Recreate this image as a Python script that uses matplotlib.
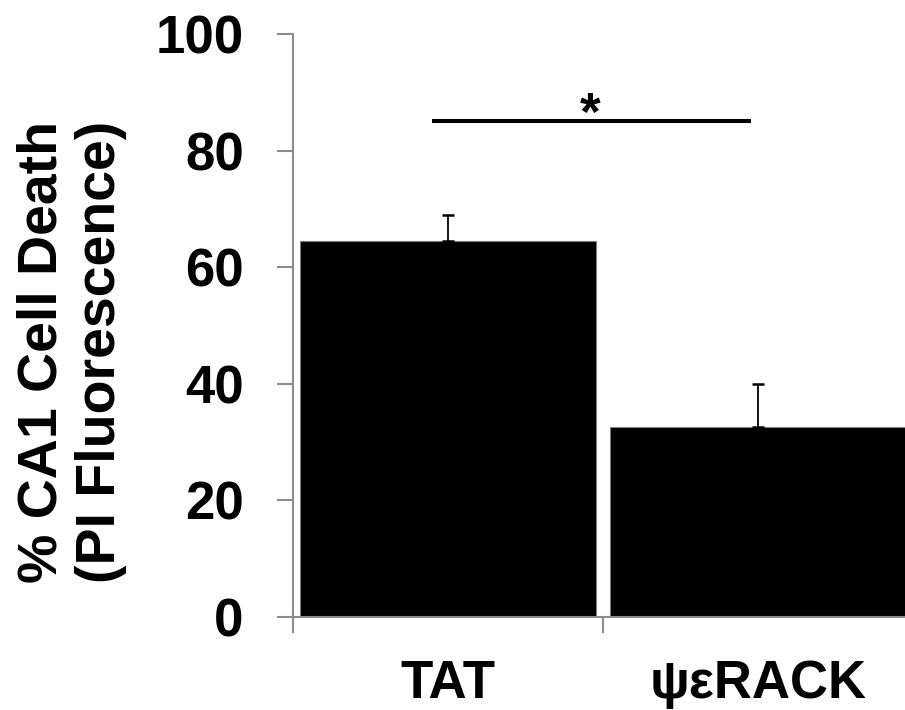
import matplotlib
matplotlib.use('Agg')
import matplotlib.pyplot as plt

# data
groups = ['TAT', 'ψεRACK']
death = [64.5, 32.6]
sem = [4.5, 7.4]
yticks = [0, 20, 40, 60, 80, 100]

plt.rcParams['font.family'] = ['Liberation Sans', 'DejaVu Sans']
plt.rcParams['font.weight'] = 'bold'

fig = plt.figure(figsize=(9.05, 7.10), dpi=100)
ax = fig.add_axes([293/905, 93/710, 620/905, 583/710])

x = list(range(len(groups)))
ax.bar(x, death, width=0.955, color='black', edgecolor='#7f7f7f', linewidth=0.8, zorder=2)
ax.errorbar(x, death, yerr=[[0, 0], sem], fmt='none', ecolor='black',
            elinewidth=1.3, capsize=4.3, capthick=1.8, zorder=3)

# significance bar
ax.plot([-0.052, 0.977], [85.1, 85.1], color='black', lw=2.9, solid_capstyle='butt', zorder=3)
ax.text(0.46, 83.6, '*', ha='center', va='baseline', fontsize=38, fontweight='bold')

ax.set_xlim(-0.5, 1.5)
ax.set_ylim(0, 100)
ax.set_yticks(yticks)
ax.set_yticklabels([str(v) for v in yticks], fontsize=38, fontweight='bold')
ax.set_xticks([-0.5, 0.5, 1.5])
ax.set_xticklabels(['', '', ''])
ax.set_xticks(x, minor=True)
ax.set_xticklabels(groups, minor=True, fontsize=38, fontweight='bold')

ax.tick_params(axis='y', which='major', length=11.5, width=1.5, color='#8c8c8c', pad=24)
ax.tick_params(axis='x', which='major', length=11.5, width=1.5, color='#8c8c8c', direction='out')
ax.tick_params(axis='x', which='minor', length=0, pad=30)

for side in ['top', 'right']:
    ax.spines[side].set_visible(False)
for side in ['left', 'bottom']:
    ax.spines[side].set_color('#8c8c8c')
    ax.spines[side].set_linewidth(1.5)

fig.text(72/905, 1 - 352/710, '% CA1 Cell Death\n(PI Fluorescence)', rotation=90,
         ha='center', va='center', fontsize=40, fontweight='bold', linespacing=1.15)

fig.savefig('out.png', dpi=100)
